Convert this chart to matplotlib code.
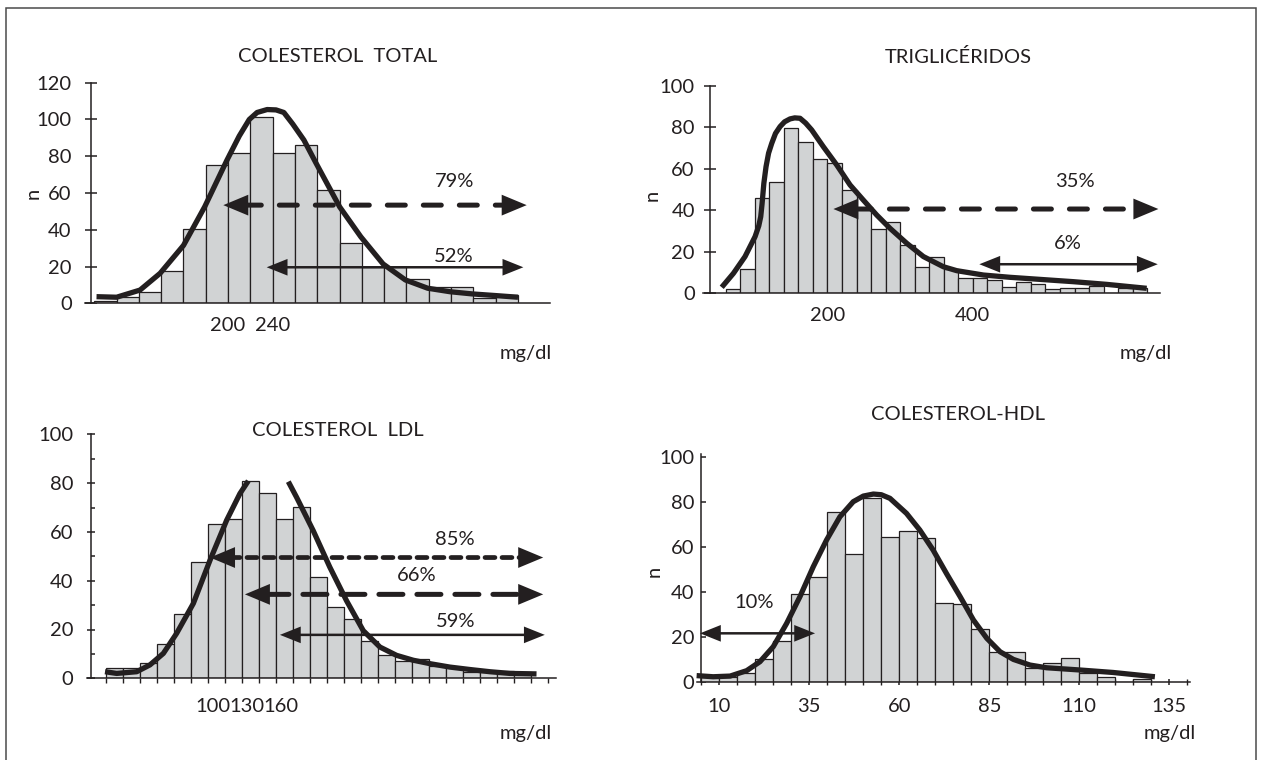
"""Four histograms of lipid values with fitted curves and cut-off arrows."""

import matplotlib
matplotlib.use("Agg")
import matplotlib.pyplot as plt
import numpy as np
from matplotlib.patches import Rectangle

W, H = 1262, 760
INK = "#231f20"
BAR = "#d1d3d4"
FS = 14.5

# ---- COLESTEROL TOTAL -------------------------------------------------------
tc_start, tc_width = 80, 20
tc_counts = [1.4, 3.3, 6.3, 17.8, 40.2, 75.2, 81.9, 101.4, 81.9, 86.2,
             61.4, 33.0, 20.0, 19.6, 13.2, 9.1, 9.1, 3.1, 4.5]
tc_curve_x = [82, 100, 121, 139, 160, 179, 199, 210, 219, 226, 235, 243, 250, 258, 268,
              279, 300, 319, 339, 359, 379, 399, 419, 440, 460]
tc_curve_y = [3.6, 3.3, 7.2, 16.3, 31.5, 52.5, 77.9, 91.0, 100.0, 103.8, 105.4, 105.2, 103.8, 97.5, 88.8,
              76.1, 52.5, 36.2, 21.4, 12.7, 8.2, 6.3, 5.1, 4.2, 3.3]
tc_ticks = [200, 240]

# ---- TRIGLICERIDOS ----------------------------------------------------------
tg_start, tg_width = 60, 20
tg_counts = [1.9, 11.6, 45.9, 53.6, 79.5, 73.0, 64.5, 62.9, 49.6, 40.4,
             30.8, 34.5, 23.4, 12.5, 17.3, 11.7, 7.2, 7.2, 6.4, 2.9,
             5.6, 4.3, 1.9, 2.4, 2.4, 3.5, 0.0, 2.4, 2.4]
tg_curve_x = [54.5, 70.6, 86.6, 100.4, 105.5, 108.2, 110.0, 112.5, 115.5, 119.0, 123.3, 128.5,
              134.8, 141.0, 148.5, 155.0, 162.3, 170.0, 178.3, 194.4, 212.8, 231.1, 249.4,
              267.8, 286.1, 309.1, 332.0, 359.5, 377.9, 414.6, 451.3, 492.6, 538.4, 584.3, 639.3]
tg_curve_y = [2.9, 9.6, 17.7, 27.3, 32.5, 36.9, 43.0, 53.0, 61.0, 67.5, 72.2, 77.0,
              80.3, 82.6, 84.0, 84.5, 84.3, 82.0, 78.7, 70.6, 61.8, 52.2, 44.9,
              37.7, 31.3, 24.1, 17.7, 12.8, 10.9, 8.8, 7.7, 6.7, 5.6, 4.3, 2.4]
tg_ticks = [200, 400]

# ---- COLESTEROL LDL ---------------------------------------------------------
ldl_start, ldl_width = 5, 15
ldl_counts = [4.1, 4.1, 6.1, 14.1, 26.2, 47.8, 63.3, 65.3, 81.0, 76.1,
              65.3, 70.1, 41.4, 29.4, 24.3, 15.3, 9.6, 7.2, 7.9, 5.2,
              4.8, 2.5, 2.5, 3.1, 2.5]
# the printed curve is cut off above ~81, hence the gap
ldl_curve_x = [4.4, 14.7, 32.4, 44.1, 55.9, 67.6, 82.4, 97.1, 111.8, 123.5, 130.9,
               np.nan,
               166.2, 173.5, 188.2, 202.9, 217.6, 232.4, 247.1, 261.8, 276.5,
               291.2, 308.8, 326.5, 344.1, 361.8, 385.3]
ldl_curve_y = [2.7, 2.0, 2.7, 5.5, 10.2, 18.4, 30.7, 48.4, 64.8, 75.7, 80.9,
               np.nan,
               80.6, 74.2, 60.5, 45.5, 31.8, 19.5, 12.8, 9.4, 7.4,
               6.0, 4.6, 3.6, 2.7, 2.0, 1.8]
ldl_ticks = [100, 130, 160]

# ---- COLESTEROL-HDL ---------------------------------------------------------
hdl_start, hdl_width = 5, 5
hdl_counts = [1.9, 1.9, 4.0, 10.1, 18.1, 39.1, 46.7, 75.4, 56.7, 81.8,
              64.1, 66.8, 63.9, 35.1, 34.4, 23.6, 13.3, 13.3, 5.9, 8.4,
              10.7, 3.7, 1.9, 0.0, 1.0]
hdl_curve_x = [3.7, 8.3, 13.0, 17.6, 21.3, 25.0, 28.7, 32.4, 36.1, 39.8, 43.5, 47.2, 50.0,
               52.8, 55.0, 57.4, 62.0, 65.7, 69.4, 73.1, 76.9, 80.6, 84.3, 88.0, 91.7,
               96.3, 100.9, 110.2, 119.4, 131.0]
hdl_curve_y = [2.7, 2.2, 2.5, 4.9, 8.9, 15.6, 25.9, 37.8, 51.1, 63.0, 73.3, 80.0, 82.5,
               83.4, 83.1, 81.5, 74.8, 67.4, 58.5, 48.1, 37.8, 27.4, 19.3, 13.3, 9.9,
               7.4, 6.2, 5.2, 4.1, 2.2]
hdl_ticks = [10, 35, 60, 85, 110, 135]

plt.rcParams["font.family"] = ["Lato", "DejaVu Sans"]
plt.rcParams["font.size"] = FS
plt.rcParams["text.color"] = INK

fig = plt.figure(figsize=(W / 100, H / 100), dpi=100)
fig.add_artist(Rectangle((5.5 / W, -0.02), (1256 - 5.5) / W, 1.02 - 7.5 / H,
                         transform=fig.transFigure, fill=False,
                         edgecolor="#4a4a4a", linewidth=1.1))


def add_axes_px(left, right, top, bottom):
    return fig.add_axes([left / W, 1 - bottom / H, (right - left) / W, (bottom - top) / H])


def fig_text(x, y, s, **kw):
    fig.text(x / W, 1 - y / H, s, ha="center", va="center", **kw)


def histogram(ax, start, width, counts, cx, cy):
    left = start + width * np.arange(len(counts))
    ax.bar(left, counts, width=width, align="edge", color=BAR,
           edgecolor=INK, linewidth=0.9, zorder=2)
    ax.plot(cx, cy, color=INK, lw=3.8, solid_capstyle="butt",
            solid_joinstyle="round", zorder=4, clip_on=False)


def style_axes(ax, spine_x):
    for s in ("top", "right"):
        ax.spines[s].set_visible(False)
    ax.spines["left"].set_position(("data", spine_x))
    for s in ("left", "bottom"):
        ax.spines[s].set_linewidth(1.1)
        ax.spines[s].set_color(INK)
    ax.patch.set_alpha(0)
    ax.tick_params(colors=INK, labelcolor=INK, labelsize=FS, width=1.1)


def double_arrow(ax, x0, x1, y, lw, ls, hl, hw):
    ax.annotate("", xy=(x1, y), xytext=(x0, y), annotation_clip=False,
                arrowprops=dict(arrowstyle="-", lw=lw, ls=ls, color=INK,
                                shrinkA=hl * 0.8, shrinkB=hl * 0.8), zorder=5)
    ax.annotate("", xy=(x1, y), xytext=(x0, y), annotation_clip=False,
                arrowprops=dict(arrowstyle=f"<|-|>,head_length={hl},head_width={hw}",
                                mutation_scale=1, lw=0, color=INK,
                                shrinkA=0, shrinkB=0), zorder=6)


DASH = (0, (3.6, 3.6))
LONGDASH = (0, (4.8, 2.8))
SHORTDASH = (0, (2.1, 1.5))

# panel 1
ax1 = add_axes_px(85, 550, 82.7, 303.3)
ax1.set_xlim(71.66, 488.7)
ax1.set_ylim(0, 120)
style_axes(ax1, 77.0)
histogram(ax1, tc_start, tc_width, tc_counts, tc_curve_x, tc_curve_y)
ax1.set_yticks(range(0, 121, 20))
ax1.tick_params(axis="y", direction="inout", length=8.6, pad=9.6)
ax1.set_xticks(tc_ticks)
ax1.tick_params(axis="x", length=0, pad=10)
double_arrow(ax1, 195.7, 467.8, 53.4, 3.6, DASH, 18, 7.5)
double_arrow(ax1, 234.6, 464.8, 19.6, 1.8, "-", 15, 6)
ax1.text(403.5, 66.1, "79%", ha="center", va="center")
ax1.text(402.6, 25.4, "52%", ha="center", va="center")

# panel 2
ax2 = add_axes_px(703, 1160, 85.7, 293.3)
ax2.set_xlim(28.76, 657.6)
ax2.set_ylim(0, 100)
style_axes(ax2, 38.4)
histogram(ax2, tg_start, tg_width, tg_counts, tg_curve_x, tg_curve_y)
ax2.set_yticks(range(0, 101, 20))
ax2.tick_params(axis="y", direction="inout", length=8.4, pad=6.7)
ax2.set_xticks(tg_ticks)
ax2.tick_params(axis="x", length=0, pad=10)
double_arrow(ax2, 208.2, 655.4, 40.6, 3.6, DASH, 18, 7.5)
double_arrow(ax2, 409.0, 654.5, 14.0, 1.8, "-", 15, 6)
ax2.text(540.7, 53.8, "35%", ha="center", va="center")
ax2.text(530.6, 23.8, "6%", ha="center", va="center")

# panel 3
ax3 = add_axes_px(86.7, 556, 434.3, 678.3)
ax3.set_xlim(-11.76, 402.5)
ax3.set_ylim(0, 100)
style_axes(ax3, -8.24)
histogram(ax3, ldl_start, ldl_width, ldl_counts, ldl_curve_x, ldl_curve_y)
ax3.set_yticks(range(0, 101, 20))
ax3.set_yticks(range(10, 100, 20), minor=True)
ax3.tick_params(axis="y", which="major", direction="inout", length=6, pad=9.6)
ax3.tick_params(axis="y", which="minor", direction="in", length=3, width=1.1, color=INK)
ax3.set_xticks(ldl_ticks)
ax3.set_xticks(np.arange(5, 400, 15), minor=True)
ax3.tick_params(axis="x", which="major", length=0, pad=14)
ax3.tick_params(axis="x", which="minor", direction="out", length=3.6, width=1.0, color=INK)
double_arrow(ax3, 97.1, 391.2, 49.5, 3.4, SHORTDASH, 18, 7.5)
double_arrow(ax3, 127.9, 391.2, 34.4, 3.6, LONGDASH, 18, 7.5)
double_arrow(ax3, 158.8, 392.6, 17.8, 1.8, "-", 15, 6)
ax3.text(313.2, 57.0, "85%", ha="center", va="center")
ax3.text(279.4, 42.3, "66%", ha="center", va="center")
ax3.text(314.1, 23.2, "59%", ha="center", va="center")

# panel 4
ax4 = add_axes_px(696.7, 1190, 454.45, 681.7)
ax4.set_xlim(3.72, 140.75)
ax4.set_ylim(0, 101)
style_axes(ax4, 5.0)
histogram(ax4, hdl_start, hdl_width, hdl_counts, hdl_curve_x, hdl_curve_y)
ax4.set_yticks(range(0, 101, 20))
ax4.tick_params(axis="y", direction="in", length=3.6, pad=5)
ax4.set_xticks(hdl_ticks)
ax4.set_xticks(np.arange(5, 141, 5), minor=True)
ax4.tick_params(axis="x", which="both", direction="inout", length=5, pad=9)
ax4.tick_params(axis="x", which="minor", width=1.0, color=INK)
double_arrow(ax4, 4.63, 36.6, 21.5, 1.8, "-", 15, 6)
ax4.text(19.6, 35.1, "10%", ha="center", va="center")

# titles, axis words
fig_text(337.5, 56.7, "COLESTEROL  TOTAL")
fig_text(958, 56.7, "TRIGLICÉRIDOS")
fig_text(337.5, 430, "COLESTEROL  LDL")
fig_text(957.5, 415, "COLESTEROL-HDL")
for x, y in [(526, 353), (1146, 353), (526, 733), (1170, 733)]:
    fig_text(x, y, "mg/dl")
for x, y in [(33, 193), (652, 195), (654, 571)]:
    fig_text(x, y, "n", rotation=90)

fig.savefig("out.png", dpi=100)
